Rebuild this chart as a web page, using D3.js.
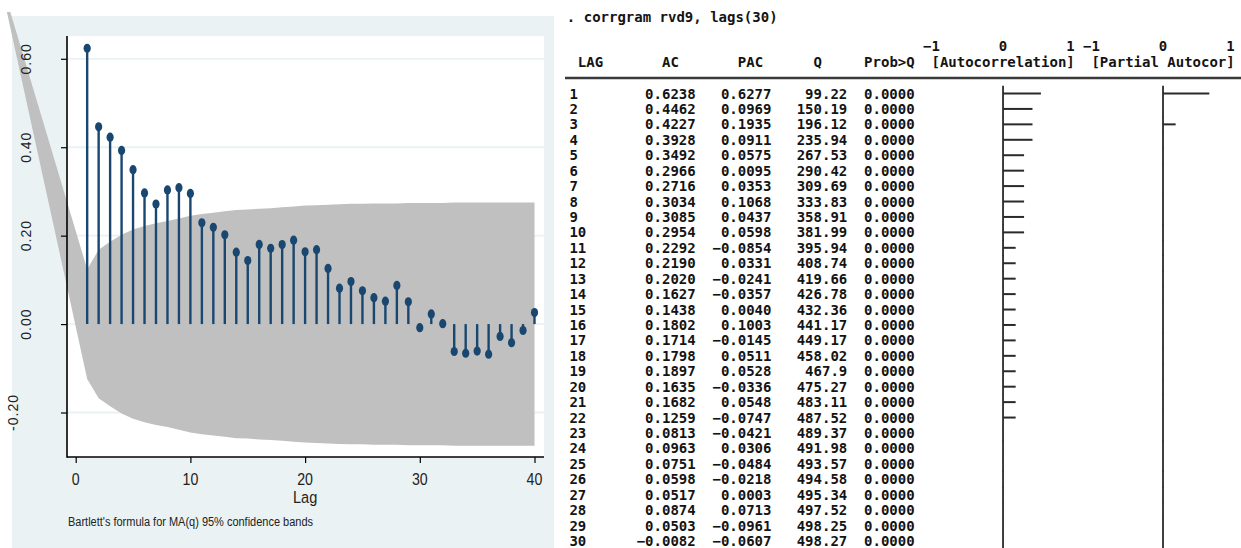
<!DOCTYPE html>
<html>
<head>
<meta charset="utf-8">
<script src="https://cdn.jsdelivr.net/npm/d3@7"></script>
<style>
  html, body { margin: 0; padding: 0; background: #fff; }
  svg { display: block; }
</style>
</head>
<body>
<svg id="fig" width="1241" height="548"></svg>
<script>
// ---------- autocorrelation plot data ----------
const acfLags = [1,2,3,4,5,6,7,8,9,10,11,12,13,14,15,16,17,18,19,20,
                 21,22,23,24,25,26,27,28,29,30,31,32,33,34,35,36,37,38,39,40];
const acfValues = [0.6238,0.4462,0.4227,0.3928,0.3492,0.2966,0.2716,0.3034,0.3085,0.2954,
                   0.2292,0.2190,0.2020,0.1627,0.1438,0.1802,0.1714,0.1798,0.1897,0.1635,
                   0.1682,0.1259,0.0813,0.0963,0.0751,0.0598,0.0517,0.0874,0.0503,-0.0082,
                   0.023,0.001,-0.062,-0.066,-0.061,-0.068,-0.028,-0.042,-0.0145,0.026];
// Bartlett 95% band half-width at each lag
const bandHalfWidth = [0.124,0.168,0.186,0.202,0.214,0.222,0.228,0.233,0.239,0.245,
                       0.249,0.252,0.255,0.258,0.259,0.261,0.262,0.264,0.266,0.268,
                       0.269,0.270,0.271,0.272,0.272,0.273,0.273,0.273,0.274,0.274,
                       0.274,0.274,0.275,0.275,0.275,0.275,0.275,0.275,0.275,0.275];
// the band polygon starts from a point up and to the left of the plot
const bandStartLag = [-5.7, -6.0];   // upper edge, lower edge
const bandStartValue = 0.706;
const yTickValues = [-0.2, 0, 0.2, 0.4, 0.6];
const xTickValues = [0, 10, 20, 30, 40];
const xTitle = "Lag";
const footnote = "Bartlett's formula for MA(q) 95% confidence bands";

// ---------- corrgram table data ----------
const commandLine = ". corrgram rvd9, lags(30)";
const tableLags = [1,2,3,4,5,6,7,8,9,10,11,12,13,14,15,16,17,18,19,20,
                   21,22,23,24,25,26,27,28,29,30];
const tableAC = [0.6238,0.4462,0.4227,0.3928,0.3492,0.2966,0.2716,0.3034,0.3085,0.2954,
                 0.2292,0.2190,0.2020,0.1627,0.1438,0.1802,0.1714,0.1798,0.1897,0.1635,
                 0.1682,0.1259,0.0813,0.0963,0.0751,0.0598,0.0517,0.0874,0.0503,-0.0082];
const tablePAC = [0.6277,0.0969,0.1935,0.0911,0.0575,0.0095,0.0353,0.1068,0.0437,0.0598,
                  -0.0854,0.0331,-0.0241,-0.0357,0.0040,0.1003,-0.0145,0.0511,0.0528,-0.0336,
                  0.0548,-0.0747,-0.0421,0.0306,-0.0484,-0.0218,0.0003,0.0713,-0.0961,-0.0607];
const tableQ = [99.22,150.19,196.12,235.94,267.53,290.42,309.69,333.83,358.91,381.99,
                395.94,408.74,419.66,426.78,432.36,441.17,449.17,458.02,467.9,475.27,
                483.11,487.52,489.37,491.98,493.57,494.58,495.34,497.52,498.25,498.27];
const tableProbQ = [0,0,0,0,0,0,0,0,0,0,0,0,0,0,0,0,0,0,0,0,0,0,0,0,0,0,0,0,0,0];
const scaleLabels = [-1, 0, 1];

// ---------- styles ----------
const navy = "#1a476f";
const bandGray = "#c0c0c0";
const panelBg = "#eaf2f3";
const sans = "'Liberation Sans', Arial, sans-serif";
const mono = "'DejaVu Sans Mono', monospace";

const svg = d3.select("#fig");
svg.append("rect").attr("width", 1241).attr("height", 548).attr("fill", "#fff");

// ================= left: AC plot =================
const plot = { left: 67, right: 544, top: 36, bottom: 457 };
const x = d3.scaleLinear().domain([0, 40]).range([75.7, 534.5]);
const y = d3.scaleLinear().domain([-0.2, 0.6]).range([412.5, 58.8]);

svg.append("rect")
  .attr("x", 12).attr("y", 16).attr("width", 542).attr("height", 532)
  .attr("fill", panelBg);
svg.append("rect")
  .attr("x", plot.left).attr("y", plot.top)
  .attr("width", plot.right - plot.left).attr("height", plot.bottom - plot.top)
  .attr("fill", "#fff");

// grid lines
svg.append("g").selectAll("line").data(yTickValues).join("line")
  .attr("x1", plot.left).attr("x2", plot.right)
  .attr("y1", d => y(d)).attr("y2", d => y(d))
  .attr("stroke", panelBg).attr("stroke-width", 1.8);

// confidence band
const upperEdge = [[x(bandStartLag[0]), y(bandStartValue)]]
  .concat(acfLags.map((l, i) => [x(l), y(bandHalfWidth[i])]));
const lowerEdge = acfLags.map((l, i) => [x(l), y(-bandHalfWidth[i])]).reverse()
  .concat([[x(bandStartLag[1]), y(bandStartValue)]]);
svg.append("path")
  .attr("d", d3.line()(upperEdge.concat(lowerEdge)) + "Z")
  .attr("fill", bandGray);

// stems and markers
const acf = acfLags.map((l, i) => ({ lag: l, value: acfValues[i] }));
svg.append("g").selectAll("line").data(acf).join("line")
  .attr("x1", d => x(d.lag)).attr("x2", d => x(d.lag))
  .attr("y1", y(0)).attr("y2", d => y(d.value))
  .attr("stroke", navy).attr("stroke-width", 2.4);
svg.append("g").selectAll("ellipse").data(acf).join("ellipse")
  .attr("cx", d => x(d.lag)).attr("cy", d => y(d.value))
  .attr("rx", 3.6).attr("ry", 4.6)
  .attr("fill", navy);

// axes (ticks via d3 axes, lines drawn across the full plot region)
const yAxis = svg.append("g").attr("transform", `translate(${plot.left},0)`)
  .call(d3.axisLeft(y).tickValues(yTickValues).tickSize(6).tickSizeOuter(0).tickFormat(""));
yAxis.select(".domain").remove();
yAxis.selectAll(".tick line").attr("stroke", "#000").attr("stroke-width", 1.2);

const xAxis = svg.append("g").attr("transform", `translate(0,${plot.bottom})`)
  .call(d3.axisBottom(x).tickValues(xTickValues).tickSize(6).tickSizeOuter(0).tickFormat(""));
xAxis.select(".domain").remove();
xAxis.selectAll(".tick line").attr("stroke", "#000").attr("stroke-width", 1.2);

svg.append("line").attr("x1", plot.left).attr("x2", plot.left)
  .attr("y1", plot.top).attr("y2", plot.bottom + 0.8)
  .attr("stroke", "#000").attr("stroke-width", 1.6);
svg.append("line").attr("x1", plot.left).attr("x2", plot.right)
  .attr("y1", plot.bottom).attr("y2", plot.bottom)
  .attr("stroke", "#000").attr("stroke-width", 1.6);

// y tick labels, vertical
const yFmt = d3.format(".2f");
svg.append("g").selectAll("text").data(yTickValues).join("text")
  .attr("transform", d => `translate(${d < 0 ? 18 : 31},${y(d)}) rotate(-90)`)
  .attr("text-anchor", "middle")
  .attr("font-family", sans).attr("font-size", 14)
  .attr("letter-spacing", 1)
  .attr("fill", "#222")
  .text(d => yFmt(d).replace("−", "-"));

// x tick labels
svg.append("g").selectAll("text").data(xTickValues).join("text")
  .attr("transform", d => `translate(${x(d)},485) scale(0.86,1)`)
  .attr("text-anchor", "middle")
  .attr("font-family", sans).attr("font-size", 16.5)
  .attr("fill", "#222")
  .text(d => d);

svg.append("text")
  .attr("transform", `translate(${x(20)},503) scale(0.88,1)`)
  .attr("text-anchor", "middle")
  .attr("font-family", sans).attr("font-size", 16.5)
  .attr("fill", "#222")
  .text(xTitle);

svg.append("text")
  .attr("x", 68).attr("y", 526)
  .attr("font-family", sans).attr("font-size", 12.5)
  .attr("textLength", 245).attr("lengthAdjust", "spacingAndGlyphs")
  .attr("fill", "#222")
  .text(footnote);

// ================= right: corrgram table (fixed-width character grid) =================
const ink = "#141414";
const fontSize = 14;
const charW = 8.42;
const gridLeft = 569.4;
const col = c => gridLeft + c * charW;          // left edge of character cell c
const rowY = d3.scaleLinear().domain([1, 30]).range([93.5, 541]);
const acX = d3.scaleLinear().domain([-1, 1]).range([col(51.5) - 8 * charW, col(51.5) + 8 * charW]);
const pacX = d3.scaleLinear().domain([-1, 1]).range([col(70.5) - 8 * charW, col(70.5) + 8 * charW]);

function monoText(sel) {
  return sel.attr("font-family", mono).attr("font-weight", "bold")
    .attr("font-size", fontSize).attr("fill", ink);
}

monoText(svg.append("text")).attr("x", col(-0.3)).attr("y", 22).text(commandLine);

// scale labels above the bar columns
[acX, pacX].forEach(sc => {
  monoText(svg.append("g").selectAll("text").data(scaleLabels).join("text"))
    .attr("x", d => sc(d) + (d < 0 ? charW / 2 : 0))
    .attr("y", 51)
    .attr("text-anchor", d => d < 0 ? "end" : "middle")
    .text(d => d3.format("d")(d));
});

// column headers (start column of each label)
const headerCols = [
  { t: "LAG", c: 1 },
  { t: "AC", c: 11 },
  { t: "PAC", c: 20 },
  { t: "Q", c: 29 },
  { t: "Prob>Q", c: 35 },
  { t: "[Autocorrelation]", c: 43 },
  { t: "[Partial Autocor]", c: 62 }
];
monoText(svg.append("g").selectAll("text").data(headerCols).join("text"))
  .attr("x", d => col(d.c)).attr("y", 67)
  .text(d => d.t);

svg.append("line").attr("x1", 565).attr("x2", 1241).attr("y1", 78).attr("y2", 78)
  .attr("stroke", "#3a3a3a").attr("stroke-width", 2.6);

const rows = tableLags.map((l, i) => ({
  lag: l, ac: tableAC[i], pac: tablePAC[i], q: tableQ[i], p: tableProbQ[i]
}));
const f4 = d3.format(".4f");
// value columns: right edge given as the last character column
const columns = [
  { c: 0, a: "start", v: d => String(d.lag) },
  { c: 15, a: "end", v: d => f4(d.ac) },
  { c: 24, a: "end", v: d => f4(d.pac) },
  { c: 33, a: "end", v: d => String(d.q) },
  { c: 41, a: "end", v: d => f4(d.p) }
];
const body = svg.append("g");
columns.forEach(cl => {
  monoText(body.append("g").selectAll("text").data(rows).join("text"))
    .attr("x", col(cl.c)).attr("y", d => rowY(d.lag) + 5)
    .attr("text-anchor", cl.a)
    .text(cl.v);
});

// character-style bars: one cell per 1/8, drawn from the centre of the "|" cell
function barEnd(r) {
  const n = Math.trunc(Math.abs(r) * 8);
  return n ? Math.sign(r) * (n + 0.5) / 8 : 0;
}
const pitch = rowY(2) - rowY(1);
[[acX, "ac"], [pacX, "pac"]].forEach(([sc, key]) => {
  const g = svg.append("g");
  g.selectAll("line.v").data(rows).join("line").attr("class", "v")
    .attr("x1", sc(0)).attr("x2", sc(0))
    .attr("y1", d => rowY(d.lag) - pitch / 2).attr("y2", d => rowY(d.lag) + pitch / 2 + 0.5)
    .attr("stroke", "#2a2a2a").attr("stroke-width", 1.8);
  g.selectAll("line.h").data(rows.filter(d => barEnd(d[key]) !== 0)).join("line").attr("class", "h")
    .attr("x1", sc(0)).attr("x2", d => sc(barEnd(d[key])))
    .attr("y1", d => rowY(d.lag)).attr("y2", d => rowY(d.lag))
    .attr("stroke", "#2a2a2a").attr("stroke-width", 2);
});
</script>
</body>
</html>
